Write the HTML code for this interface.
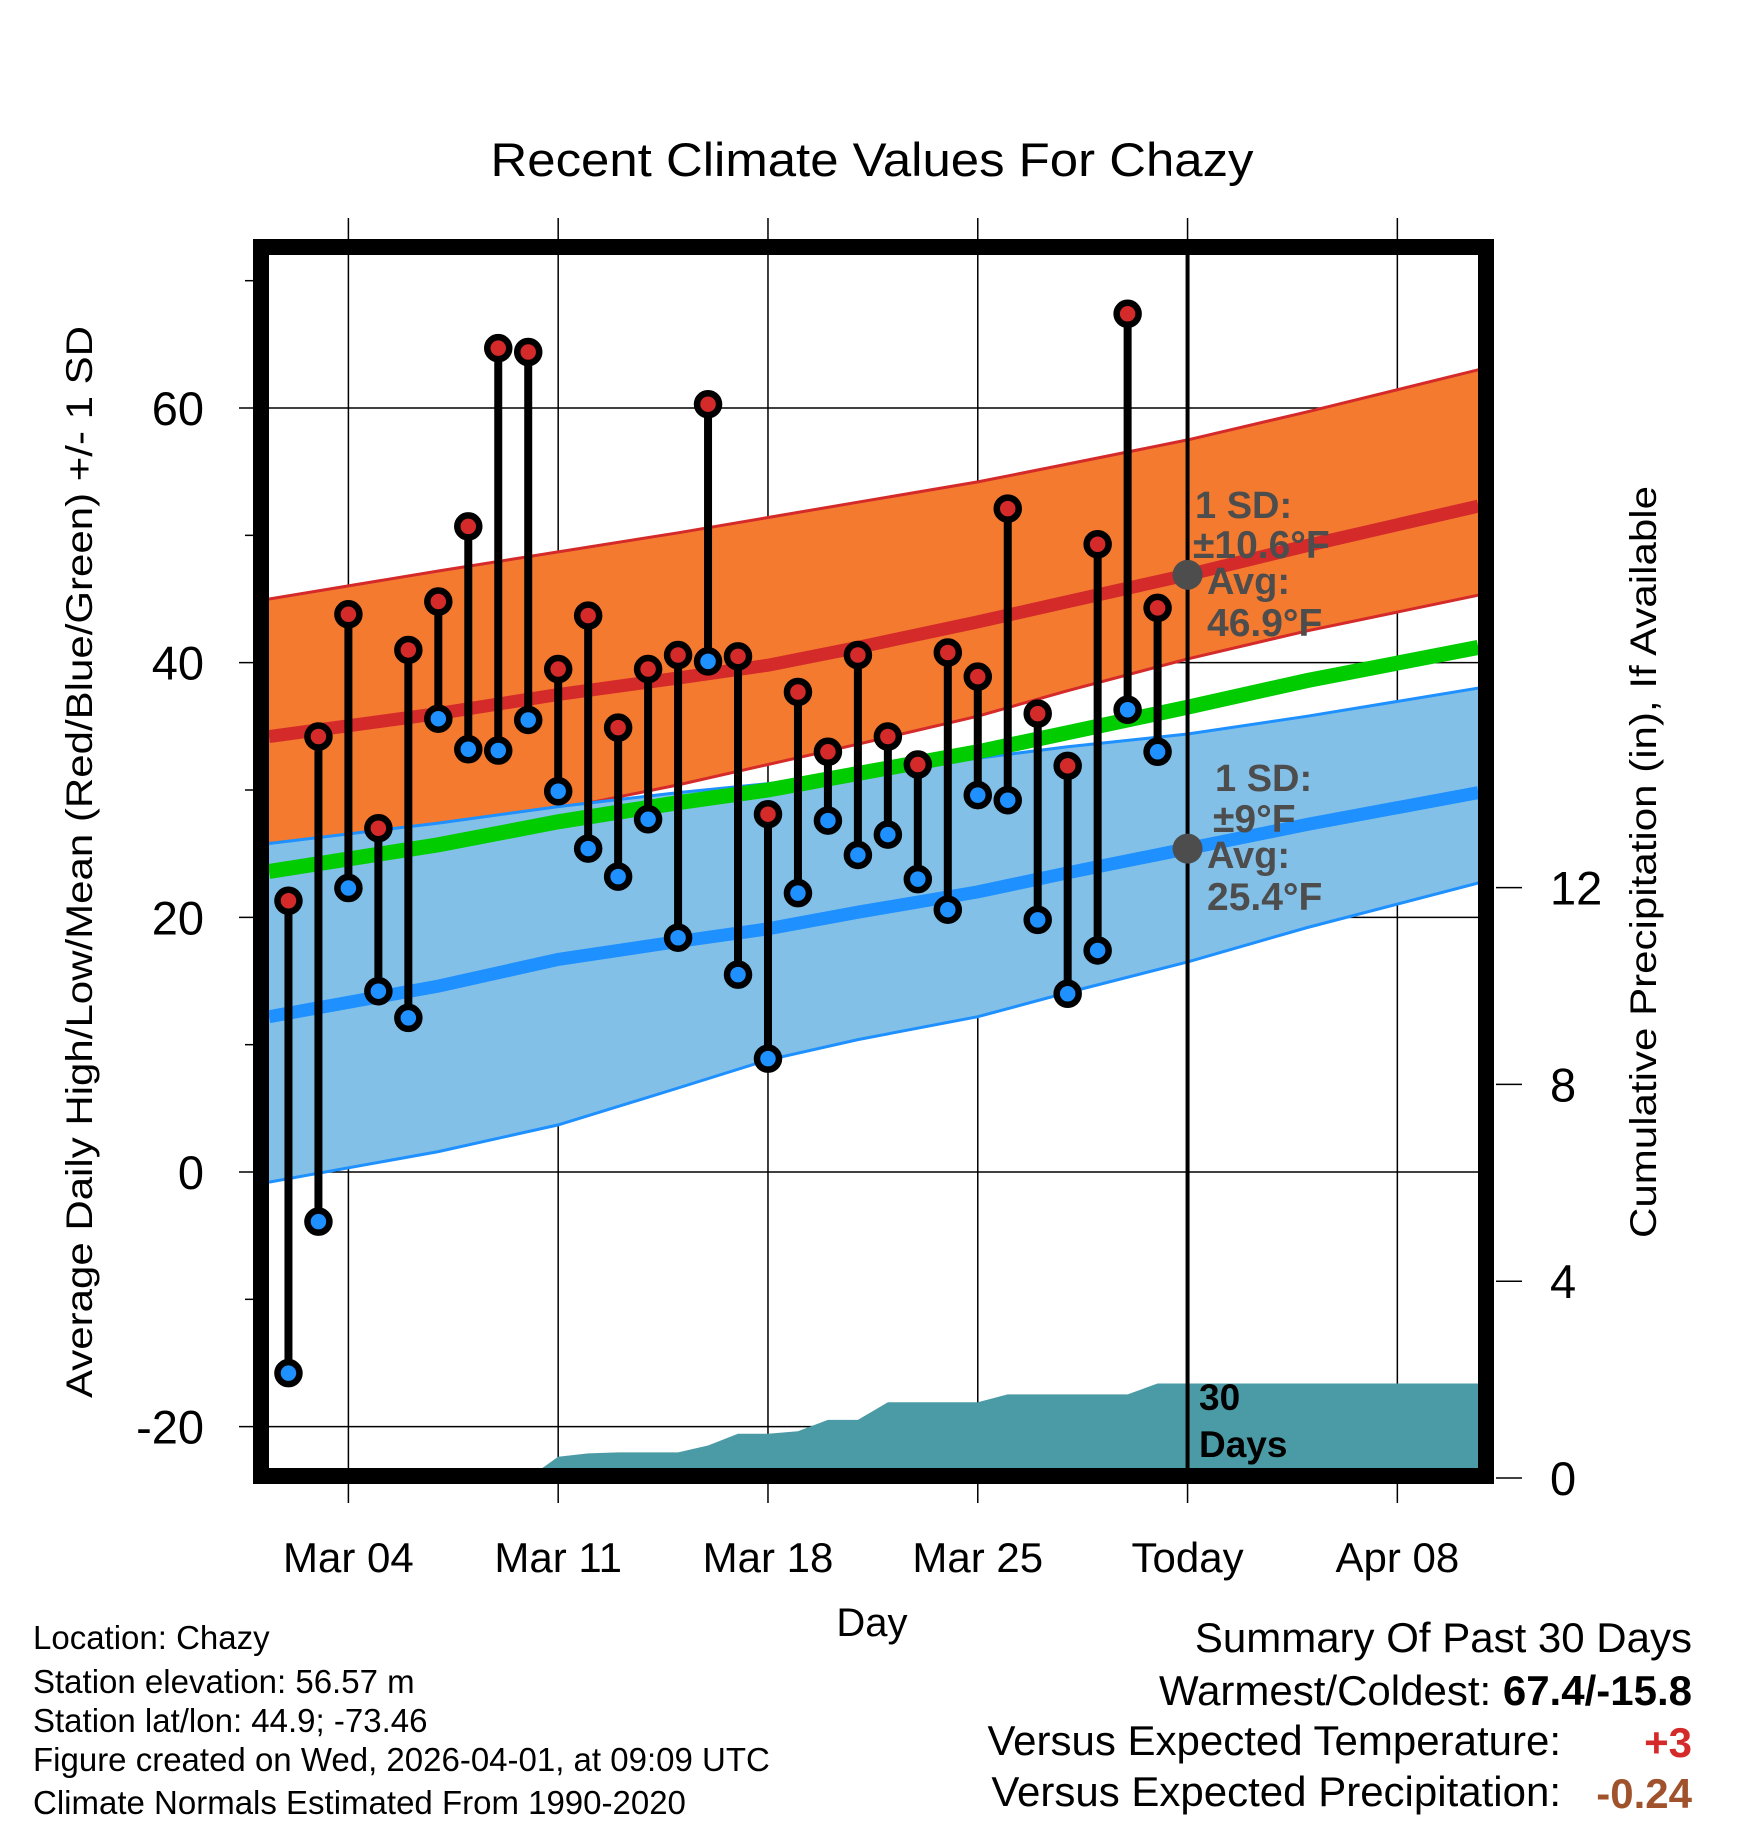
<!DOCTYPE html>
<html><head><meta charset="utf-8"><style>
html,body{margin:0;padding:0;background:#fff;}
svg{display:block;font-family:"Liberation Sans",sans-serif;}
</style></head><body>
<svg id="chart" width="1748" height="1828" viewBox="0 0 1748 1828" xmlns="http://www.w3.org/2000/svg">
<rect x="0" y="0" width="1748" height="1828" fill="#fff"/>
<text x="872" y="176" font-size="47" text-anchor="middle" textLength="763" lengthAdjust="spacingAndGlyphs">Recent Climate Values For Chazy</text>
<defs><clipPath id="plotclip"><rect x="269" y="255" width="1209" height="1213"/></clipPath></defs>
<g id="grid"></g>
<g id="bands" clip-path="url(#plotclip)"></g>
<g id="marks"></g>
<g id="annot"></g>
<rect x="261" y="247" width="1225" height="1229" fill="none" stroke="#000" stroke-width="16"/>
<g id="axes"></g>
<text x="872" y="1636" font-size="40" text-anchor="middle">Day</text>
<text transform="translate(92,862) rotate(-90)" font-size="37" text-anchor="middle" textLength="1072" lengthAdjust="spacingAndGlyphs">Average Daily High/Low/Mean (Red/Blue/Green) +/- 1 SD</text>
<text transform="translate(1656,862) rotate(-90)" font-size="37" text-anchor="middle" textLength="752" lengthAdjust="spacingAndGlyphs">Cumulative Precipitation (in), If Available</text>
<g font-size="33">
<text x="33" y="1649">Location: Chazy</text>
<text x="33" y="1693">Station elevation: 56.57 m</text>
<text x="33" y="1732">Station lat/lon: 44.9; -73.46</text>
<text x="33" y="1771">Figure created on Wed, 2026-04-01, at 09:09 UTC</text>
<text x="33" y="1814">Climate Normals Estimated From 1990-2020</text>
</g>
<g font-size="42" text-anchor="end">
<text x="1692" y="1652">Summary Of Past 30 Days</text>
<text x="1692" y="1705">Warmest/Coldest: <tspan font-weight="bold">67.4/-15.8</tspan></text>
<text x="1561" y="1755">Versus Expected Temperature:</text>
<text x="1692" y="1757" fill="#d42a2a" font-weight="bold">+3</text>
<text x="1561" y="1806">Versus Expected Precipitation:</text>
<text x="1692" y="1808" fill="#a0522d" font-weight="bold">-0.24</text>
</g>
</svg>
<script>
const days=[2,3,4,5,6,7,8,9,10,11,12,13,14,15,16,17,18,19,20,21,22,23,24,25,26,27,28,29,30,31];
const highs=[21.3,34.2,43.8,27,41,44.8,50.7,64.7,64.4,39.5,43.7,34.9,39.5,40.6,60.3,40.5,28.1,37.7,33,40.6,34.2,32,40.8,38.9,52.1,36,31.9,49.3,67.4,44.3];
const lows=[-15.8,-3.9,22.3,14.2,12.1,35.6,33.2,33.1,35.5,29.9,25.4,23.2,27.7,18.4,40.1,15.5,8.9,21.9,27.6,24.9,26.5,23,20.6,29.6,29.2,19.8,14,17.4,36.3,33];
const precip=[0,0,0,0,0,0,0,0,0,0.43,0.5,0.52,0.52,0.52,0.66,0.9,0.9,0.95,1.18,1.18,1.54,1.54,1.54,1.54,1.7,1.7,1.7,1.7,1.7,1.92];
const normDays=[1.35,7,11,15,18,21,25,28,32,36,41.7];
const hiMean=[34.2,36,37.5,38.8,39.8,41.2,43.2,44.8,46.9,49.2,52.3];
const hiUp=[45,47.2,48.7,50.2,51.4,52.6,54.2,55.6,57.5,59.7,63];
const hiLo=[25.8,27.2,28.5,30.4,32,33.6,35.8,37.8,40.3,42.5,45.3];
const loMean=[12.2,14.6,16.7,18.1,19.1,20.4,22,23.5,25.4,27.3,29.8];
const loUp=[25.8,27.4,28.7,29.8,30.5,31.3,32.5,33.4,34.4,35.8,38];
const loLo=[-0.8,1.6,3.7,6.6,8.8,10.4,12.2,14.1,16.5,19.2,22.7];
const avgMean=[23.6,25.7,27.5,29,30,31.3,33,34.5,36.5,38.6,41.2];
const xTickDays=[4,11,18,25,32,39];
const xTickLabels=["Mar 04","Mar 11","Mar 18","Mar 25","Today","Apr 08"];
const yTicks=[-20,0,20,40,60];
const yMinor=[-10,10,30,50,70];
const pTicks=[0,4,8,12];

const NS="http://www.w3.org/2000/svg";
const X=d=>348.4+(d-4)*29.97;
const Y=t=>1172-t*12.733;
const P=p=>1478-p*49.2;
function mk(parent,tag,attrs){const e=document.createElementNS(NS,tag);for(const k in attrs)e.setAttribute(k,attrs[k]);document.getElementById(parent).appendChild(e);return e;}
const pts=(arr)=>arr.map((v,i)=>X(normDays[i]).toFixed(1)+","+Y(v).toFixed(1));

yTicks.forEach(t=>{const l=mk('grid','line',{x1:239,x2:1478,y1:Y(t),y2:Y(t),stroke:'#000','stroke-width':1.5});

});
xTickDays.forEach(d=>{const l=mk('grid','line',{x1:X(d),x2:X(d),y1:218,y2:1503,stroke:'#000','stroke-width':1.5});

});

let e;
e=mk('bands','polygon',{points:pts(hiUp).concat(pts(hiLo).reverse()).join(' '),fill:'#f47a30'});


mk('bands','polyline',{points:pts(hiUp).join(' '),fill:'none',stroke:'#d42a2a','stroke-width':3});
mk('bands','polyline',{points:pts(hiLo).join(' '),fill:'none',stroke:'#d42a2a','stroke-width':3});
e=mk('bands','polyline',{points:pts(hiMean).join(' '),fill:'none',stroke:'#d42a2a','stroke-width':13});


e=mk('bands','polygon',{points:pts(loUp).concat(pts(loLo).reverse()).join(' '),fill:'#82c0e8'});


mk('bands','polyline',{points:pts(loUp).join(' '),fill:'none',stroke:'#1e90ff','stroke-width':3});
mk('bands','polyline',{points:pts(loLo).join(' '),fill:'none',stroke:'#1e90ff','stroke-width':3});
e=mk('bands','polyline',{points:pts(avgMean).join(' '),fill:'none',stroke:'#00cc00','stroke-width':15});


e=mk('bands','polyline',{points:pts(loMean).join(' '),fill:'none',stroke:'#1e90ff','stroke-width':13});


let pp=[X(1.35)+","+P(0)];
days.forEach((d,i)=>pp.push(X(d).toFixed(1)+","+P(precip[i]).toFixed(1)));
pp.push(X(41.7)+","+P(precip[precip.length-1]).toFixed(1));
pp.push(X(41.7)+","+P(0));
e=mk('bands','polygon',{points:pp.join(' '),fill:'#4a9ba5'});



e=mk('marks','line',{x1:X(32),x2:X(32),y1:255,y2:1468,stroke:'#000','stroke-width':4});


days.forEach((d,i)=>{
 const s=mk('marks','line',{x1:X(d),x2:X(d),y1:Y(highs[i]),y2:Y(lows[i]),stroke:'#000','stroke-width':8});
 
 
 const h=mk('marks','circle',{cx:X(d),cy:Y(highs[i]),r:11,fill:'#d42a2a',stroke:'#000','stroke-width':6.5});
 
 
 const l=mk('marks','circle',{cx:X(d),cy:Y(lows[i]),r:11,fill:'#1e90ff',stroke:'#000','stroke-width':6.5});
 
 
});

const hiToday=hiMean[8], loToday=loMean[8];
e=mk('annot','circle',{cx:X(32),cy:Y(hiToday),r:15,fill:'#4d4d4d'});


e=mk('annot','circle',{cx:X(32),cy:Y(loToday),r:15,fill:'#4d4d4d'});


function txt(x,y,s,name,fill,size){const t=mk('annot','text',{x:x,y:y,fill:fill,'font-size':size,'font-weight':'bold'});t.textContent=s;

return t;}
txt(1195,518,'1 SD:','high-sd-label','#4d4d4d',38);
txt(1193,558,'±10.6°F','high-sd-value','#4d4d4d',39);
txt(1207,594,'Avg:','high-avg-label','#4d4d4d',38);
txt(1207,636,'46.9°F','high-avg-value','#4d4d4d',39);
txt(1215,791,'1 SD:','low-sd-label','#4d4d4d',38);
txt(1213,832,'±9°F','low-sd-value','#4d4d4d',39);
txt(1207,868,'Avg:','low-avg-label','#4d4d4d',38);
txt(1207,910,'25.4°F','low-avg-value','#4d4d4d',39);
txt(1199,1410,'30','precip-days-label','#000',37);
txt(1199,1457,'Days','precip-days-label-2','#000',37);

yTicks.forEach(t=>{const l=mk('axes','text',{x:204,y:Y(t)+17,'font-size':47,'text-anchor':'end'});l.textContent=t;

});
yMinor.forEach(t=>{mk('axes','line',{x1:245,x2:253,y1:Y(t),y2:Y(t),stroke:'#000','stroke-width':1.5});});
xTickDays.forEach((d,i)=>{const l=mk('axes','text',{x:X(d),y:1572,'font-size':42,'text-anchor':'middle'});l.textContent=xTickLabels[i];

});
pTicks.forEach(p=>{mk('axes','line',{x1:1496,x2:1522,y1:P(p),y2:P(p),stroke:'#000','stroke-width':1.5});
const l=mk('axes','text',{x:1550,y:P(p)+17,'font-size':47});l.textContent=p;

});
</script>
</body></html>
